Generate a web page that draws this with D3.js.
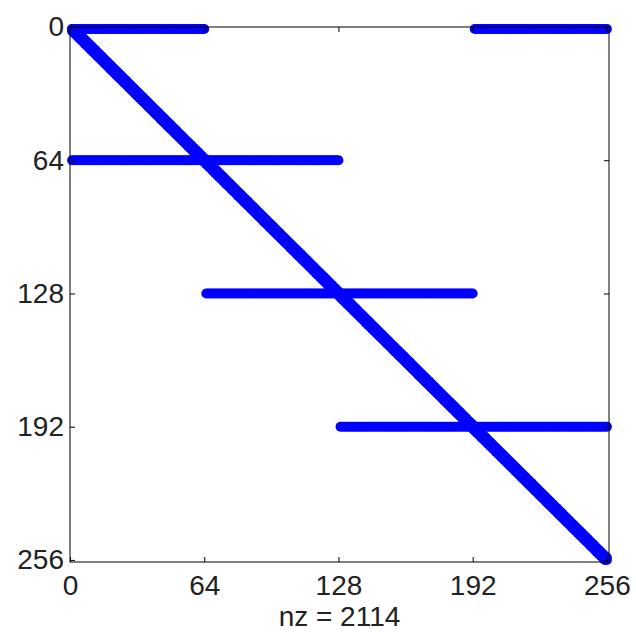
<!DOCTYPE html>
<html>
<head>
<meta charset="utf-8">
<script src="https://cdn.jsdelivr.net/npm/d3@7"></script>
<style>
  body { margin: 0; background: #fff; }
  text { font-family: "Liberation Sans", Arial, sans-serif; }
</style>
</head>
<body>
<div id="spy"></div>
<script>
'use strict';
// sparsity pattern of a 256x256 matrix (1-based row/col, as in spy)
const matrixSize = 256;
const diagOffsets = [-1, 0, 1];
const segRows = [1, 1, 64, 128, 192];
const segColStart = [1, 193, 1, 65, 129];
const segColEnd = [64, 256, 128, 192, 256];
const tickValues = [0, 64, 128, 192, 256];
const nzLabel = 'nz = 2114';

((d3) => {
    const width = 636;
    const height = 634;
    const margin = { left: 70, right: 27, top: 27, bottom: 72 };
    const markerRadius = 5;

    const svg = d3.select('#spy')
        .append('svg')
        .attr('width', width)
        .attr('height', height);

    const x = d3.scaleLinear()
        .domain([0, matrixSize + 1])
        .range([margin.left, width - margin.right]);
    const y = d3.scaleLinear()
        .domain([0, matrixSize + 1])
        .range([margin.top, height - margin.bottom]);

    // build the list of nonzeros from the pattern arrays
    const points = [];
    for (let r = 1; r <= matrixSize; r++) {
        diagOffsets.forEach((off) => {
            const c = r + off;
            if (c >= 1 && c <= matrixSize) points.push({ row: r, col: c });
        });
    }
    segRows.forEach((r, i) => {
        for (let c = segColStart[i]; c <= segColEnd[i]; c++) {
            points.push({ row: r, col: c });
        }
    });

//dots
    svg.append('g')
        .selectAll('circle')
        .data(points)
        .enter()
        .append('circle')
        .attr('cx', (d) => x(d.col))
        .attr('cy', (d) => y(d.row))
        .attr('r', markerRadius)
        .attr('fill', '#0000ff');

//axes
    const fontSize = '28px';
    const bottomAxis = d3.axisBottom(x).tickValues(tickValues)
        .tickSizeInner(-5).tickSizeOuter(0).tickPadding(13);
    const leftAxis = d3.axisLeft(y).tickValues(tickValues)
        .tickSizeInner(-5).tickSizeOuter(0).tickPadding(6);
    const topAxis = d3.axisTop(x).tickValues(tickValues)
        .tickSizeInner(-5).tickSizeOuter(0).tickFormat('');
    const rightAxis = d3.axisRight(y).tickValues(tickValues)
        .tickSizeInner(-5).tickSizeOuter(0).tickFormat('');

    const styleAxis = (g) => {
        g.select('.domain').remove();
        g.selectAll('line').attr('stroke', '#000');
        g.selectAll('text')
            .attr('fill', '#222')
            .style('font-size', fontSize);
    };

    svg.append('g')
        .attr('transform', 'translate(0,' + (height - margin.bottom) + ')')
        .call(bottomAxis).call(styleAxis);
    svg.append('g')
        .attr('transform', 'translate(' + margin.left + ',0)')
        .call(leftAxis).call(styleAxis);
    svg.append('g')
        .attr('transform', 'translate(0,' + margin.top + ')')
        .call(topAxis).call(styleAxis);
    svg.append('g')
        .attr('transform', 'translate(' + (width - margin.right) + ',0)')
        .call(rightAxis).call(styleAxis);

//box
    svg.append('rect')
        .attr('x', margin.left)
        .attr('y', margin.top)
        .attr('width', width - margin.left - margin.right)
        .attr('height', height - margin.top - margin.bottom)
        .attr('fill', 'none')
        .attr('stroke', '#000')
        .attr('stroke-width', 1);

//xlabel
    svg.append('text')
        .attr('x', (x.range()[0] + x.range()[1]) / 2)
        .attr('y', 626)
        .attr('text-anchor', 'middle')
        .attr('fill', '#222')
        .style('font-size', fontSize)
        .text(nzLabel);
})(window.d3);
</script>
</body>
</html>
